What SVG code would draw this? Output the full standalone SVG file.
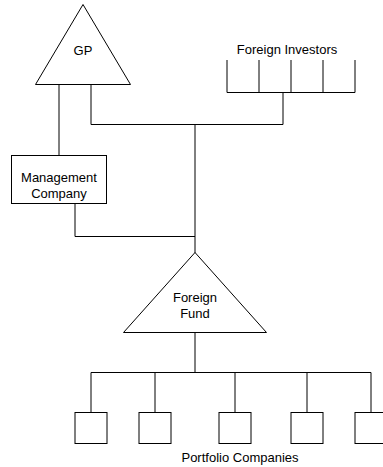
<svg xmlns="http://www.w3.org/2000/svg" width="383" height="467" viewBox="0 0 383 467">
<style>
.s{fill:#fff;stroke:#000;stroke-width:1}
.c{fill:none;stroke:#000;stroke-width:1}
text{font-family:"Liberation Sans",Arial,sans-serif;font-size:13px;fill:#000;text-anchor:middle}
</style>
<rect width="383" height="467" fill="#fff"/>
<g id="connectors">
<path class="c" d="M59,84.5V155.5"/>
<path class="c" d="M91,84.5V124.5H195"/>
<path class="c" d="M227,60V92.5H355M259,60V92.5M291,60V92.5M323,60V92.5M355,60V92.5"/>
<path class="c" d="M283,92.5V124.5H195"/>
<path class="c" d="M195,124.5V253"/>
<path class="c" d="M75,204V236.5H195"/>
<path class="c" d="M195,332V372.5"/>
<path class="c" d="M91,412.5V372.5H371V412.5M155,372.5V412.5M235,372.5V412.5M307,372.5V412.5"/>
</g>
<g id="gp">
<path class="s" d="M83,4.5L130.5,84.5H35.5Z"/>
<text x="83" y="55">GP</text>
</g>
<g id="foreign-investors">
<text x="287" y="54">Foreign Investors</text>
</g>
<g id="management-company">
<rect class="s" x="11.5" y="155.5" width="95" height="48"/>
<text x="59" y="182">Management</text>
<text x="59" y="198">Company</text>
</g>
<g id="foreign-fund">
<path class="s" d="M195,252.5L266.5,332.5H123.5Z"/>
<text x="195" y="302">Foreign</text>
<text x="195" y="318">Fund</text>
</g>
<g id="portfolio-companies">
<rect class="s" x="75" y="412.5" width="32" height="31"/>
<rect class="s" x="139" y="412.5" width="32" height="31"/>
<rect class="s" x="219" y="412.5" width="32" height="31"/>
<rect class="s" x="291" y="412.5" width="32" height="31"/>
<rect class="s" x="355" y="412.5" width="32" height="31"/>
<text x="240" y="462">Portfolio Companies</text>
</g>
</svg>
